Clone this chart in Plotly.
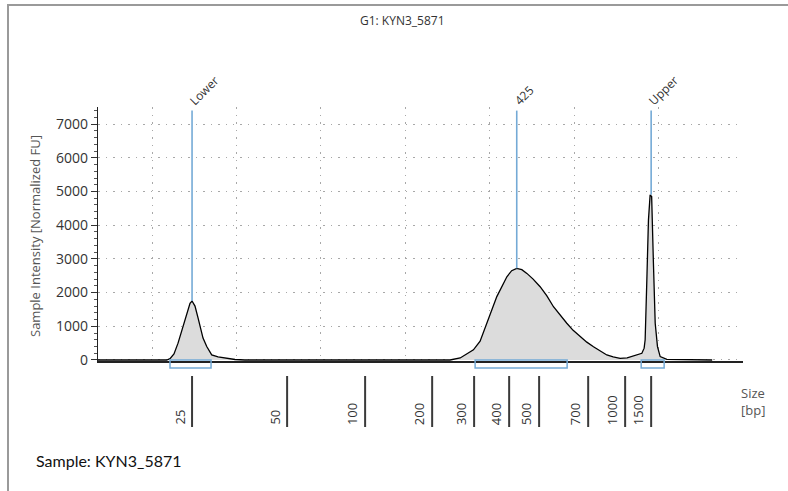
import plotly.graph_objects as go

# ---------------- data ----------------
# migration position (arbitrary axis units, gridline every 10) and normalized FU
pos = [3.6, 9.76, 11.74, 12.13, 12.6, 13.08, 13.67, 14.15, 14.5, 14.74, 15.09, 15.45,
       15.69, 16.04, 16.48, 17.07, 17.82, 18.85, 19.83, 21.0, 38.6, 40.0, 41.5, 43.3,
       45.3, 46.5, 48.07, 48.86, 49.66, 50.84, 52.03, 52.6, 53.2, 53.8, 54.4, 55.14,
       55.97, 56.77, 57.55, 58.34, 59.13, 59.88, 60.71, 61.5, 62.29, 63.08, 63.87,
       64.62, 65.45, 66.28, 67.03, 67.58, 68.02, 68.29, 68.41, 68.61, 68.8, 69.0,
       69.18, 69.39, 69.6, 69.87, 70.19, 70.98, 72.56, 76.35]
fu = [0, 0, 0, 40, 180, 500, 990, 1400, 1680, 1750, 1600, 1250,
      990, 650, 400, 150, 90, 50, 15, 0, 0, 20, 15, 0,
      0, 60, 300, 560, 1090, 1880, 2470, 2650, 2720, 2680, 2570, 2400,
      2175, 1900, 1580, 1320, 1090, 880, 690, 530, 395, 270, 150,
      90, 50, 60, 120, 170, 200, 350, 600, 2370, 4150, 4900,
      4850, 2870, 1090, 395, 100, 20, 10, 0]

marker_names = ["Lower", "425", "Upper"]
marker_pos = [14.74, 53.2, 69.12]
marker_peak = [1750, 2720, 4900]
marker_top = 7400

region_start = [12.13, 48.27, 67.94]
region_end = [16.99, 59.17, 70.66]

ladder_sizes = [25, 50, 100, 200, 300, 400, 500, 700, 1000, 1500]
ladder_pos = [14.74, 26.0, 35.24, 43.18, 48.15, 52.3, 55.85, 61.66, 66.04, 69.12]

y_ticks = [0, 1000, 2000, 3000, 4000, 5000, 6000, 7000]
x_range = [3.6, 80.0]
y_range = [-30, 7507]

title_text = "G1: KYN3_5871"
sample_text = "Sample: KYN3_5871"
y_title = "Sample Intensity [Normalized FU]"

# ---------------- layout helpers ----------------
W, H = 788, 491
L, R, T, B = 98, 45, 107, 130
PW, PH = W - L - R, H - T - B


def px_x(px):
    return (px - L) / PW


def px_y(py):
    return (H - B - py) / PH


FONT = "Open Sans"
BLUE = "#74aad6"
GRID_DASH = "1.5px,6px"

fig = go.Figure()

fig.add_trace(go.Scatter(
    x=pos, y=fu, mode="lines", fill="tozeroy", fillcolor="#dcdcdc",
    line=dict(color="black", width=1.3), hoverinfo="skip", showlegend=False))

for name, p, pk in zip(marker_names, marker_pos, marker_peak):
    fig.add_trace(go.Scatter(
        x=[p, p], y=[pk, marker_top], mode="lines",
        line=dict(color=BLUE, width=1.6), hoverinfo="skip", showlegend=False))

shapes = []
annotations = []

# outer frame (only top and left edges fall inside the picture)
shapes.append(dict(type="rect", xref="paper", yref="paper",
                   x0=px_x(8), x1=px_x(950), y0=px_y(5), y1=px_y(700),
                   line=dict(color="#9a9a9a", width=2), layer="below"))

# peak regions below baseline
for s, e in zip(region_start, region_end):
    shapes.append(dict(type="rect", xref="x", yref="paper", x0=s, x1=e,
                       y0=px_y(360), y1=px_y(368),
                       line=dict(color=BLUE, width=1.5)))

# marker labels
for name, p in zip(marker_names, marker_pos):
    annotations.append(dict(text=name, x=p, y=1, xref="x", yref="paper",
                            textangle=-45, xanchor="left", yanchor="bottom",
                            xshift=-9, yshift=-5, showarrow=False,
                            font=dict(family=FONT, size=12, color="#333")))

# ladder ticks and labels
for s, p in zip(ladder_sizes, ladder_pos):
    shapes.append(dict(type="line", xref="x", yref="paper", x0=p, x1=p,
                       y0=px_y(376), y1=px_y(427),
                       line=dict(color="#3a3a3a", width=2)))
    annotations.append(dict(text=str(s), x=p, y=px_y(427), xref="x", yref="paper",
                            textangle=-90, xanchor="right", yanchor="bottom",
                            xshift=-2, showarrow=False,
                            font=dict(family=FONT, size=13, color="#333")))

annotations.append(dict(text="Size<br>[bp]", x=px_x(739), y=px_y(401),
                        xref="paper", yref="paper", xanchor="left", yanchor="middle",
                        align="left", showarrow=False,
                        font=dict(family=FONT, size=13, color="#555")))

annotations.append(dict(text=sample_text, x=px_x(34), y=px_y(460),
                        xref="paper", yref="paper", xanchor="left", yanchor="middle",
                        showarrow=False, font=dict(family="Lato", size=16, color="#111")))

annotations.append(dict(text=title_text, x=px_x(402), y=px_y(21),
                        xref="paper", yref="paper", xanchor="center", yanchor="middle",
                        showarrow=False, font=dict(family=FONT, size=12, color="#333")))

annotations.append(dict(text=y_title, x=px_x(35), y=px_y(236),
                        xref="paper", yref="paper", xanchor="center", yanchor="middle",
                        textangle=-90, showarrow=False,
                        font=dict(family=FONT, size=13, color="#555")))

fig.update_layout(
    width=W, height=H,
    margin=dict(l=L, r=R, t=T, b=B, pad=0),
    paper_bgcolor="white", plot_bgcolor="white",
    showlegend=False,
    shapes=shapes, annotations=annotations,
    xaxis=dict(range=x_range, showticklabels=False, ticks="",
               showgrid=True, gridcolor="#a8a8a8", griddash=GRID_DASH, gridwidth=1,
               tick0=0, dtick=10, zeroline=False,
               showline=True, linecolor="#222", linewidth=1.5),
    yaxis=dict(range=y_range, tickvals=y_ticks, ticks="outside", ticklen=6,
               tickcolor="#333", tickwidth=1,
               minor=dict(dtick=200, ticks="outside", ticklen=3, tickcolor="#555",
                          showgrid=False),
               showgrid=True, gridcolor="#a8a8a8", griddash=GRID_DASH, gridwidth=1,
               zeroline=False, showline=True, linecolor="#222", linewidth=1.3,
               tickfont=dict(family=FONT, size=14, color="#333")),
)

fig.write_html("out.html")
